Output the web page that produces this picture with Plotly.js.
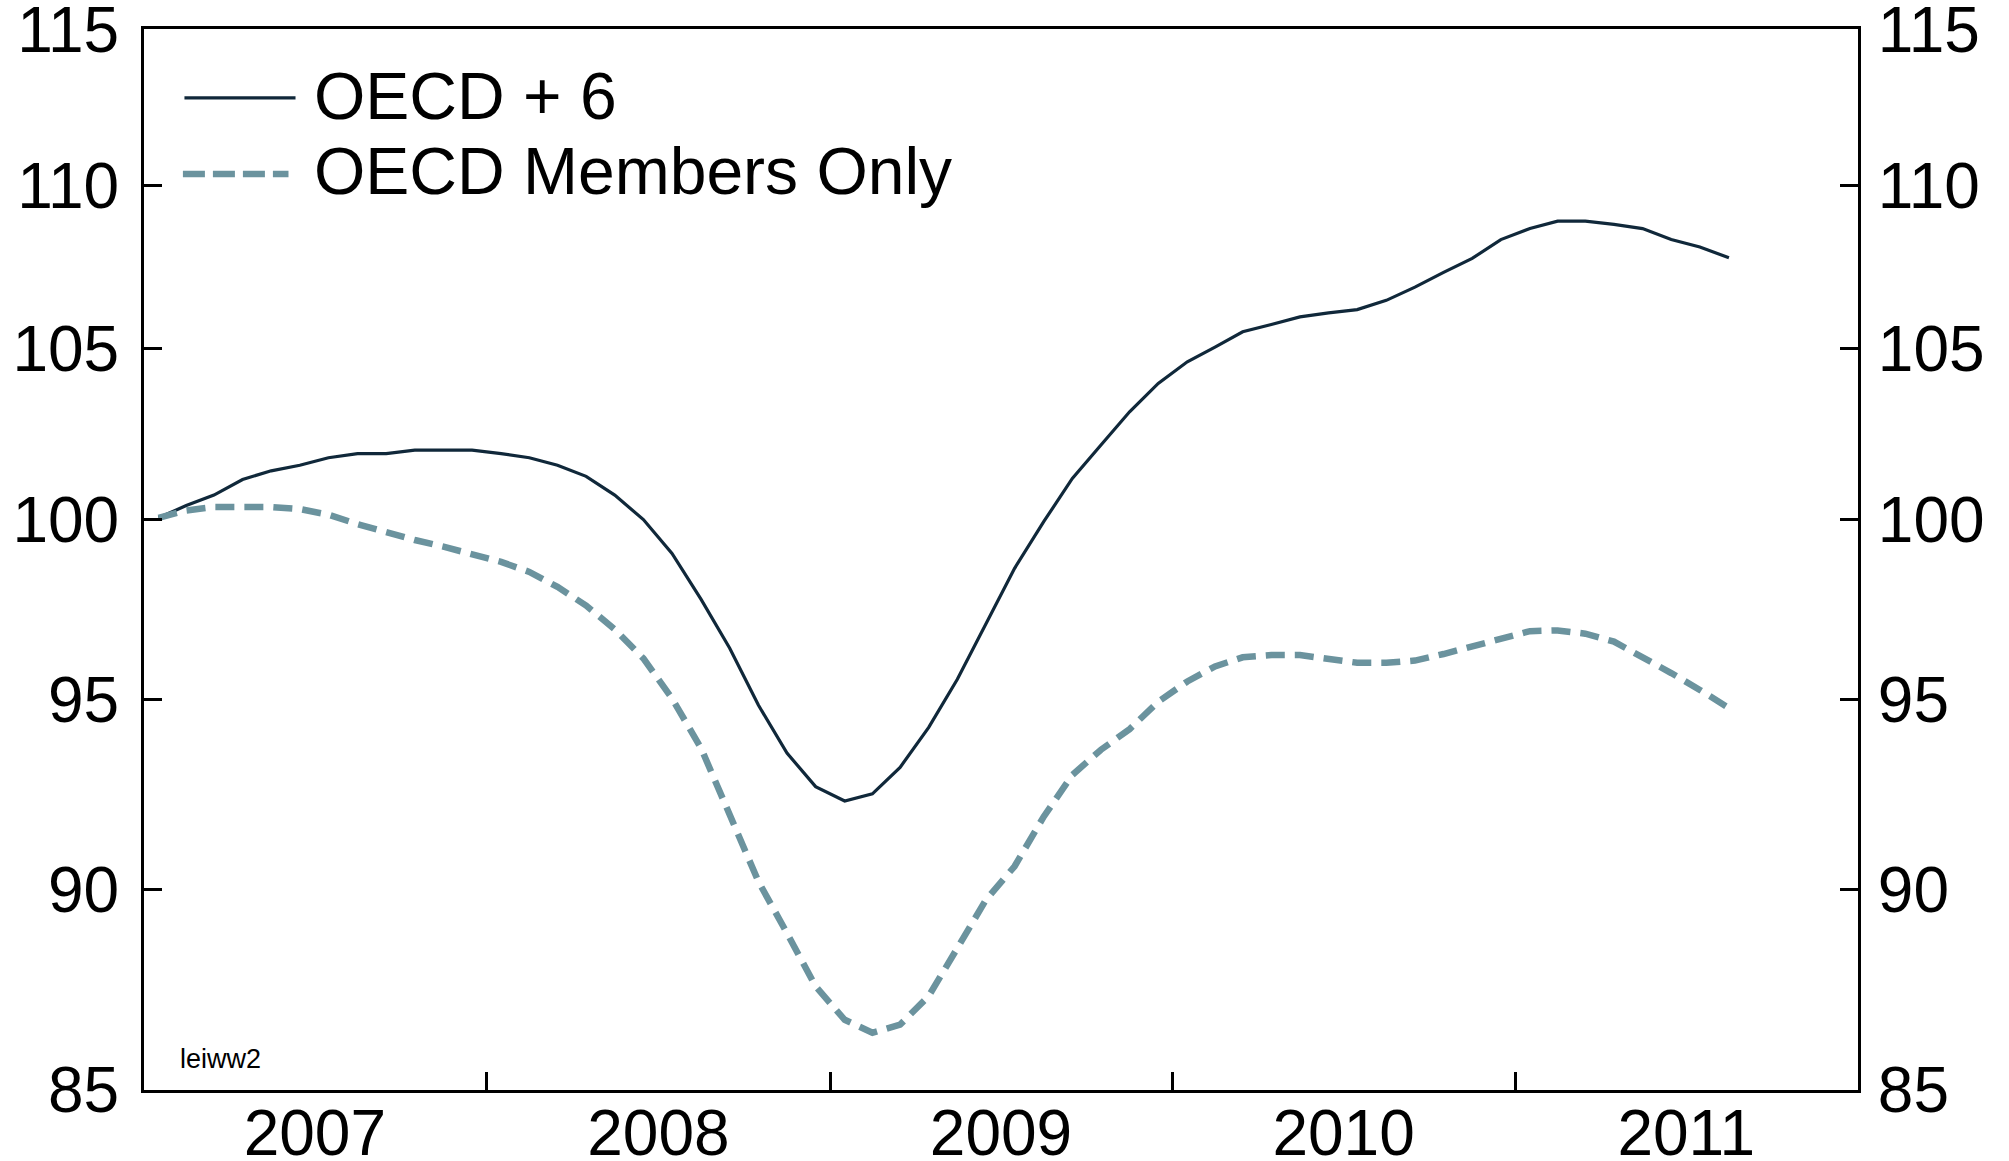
<!DOCTYPE html>
<html>
<head>
<meta charset="utf-8">
<script src="https://cdn.plot.ly/plotly-3.0.1.min.js"></script>
<style>
html,body{margin:0;padding:0;background:#fff;}
#chart{width:2009px;height:1161px;}
</style>
</head>
<body>
<div id="chart"></div>
<script>
var months = [
 '2007-01','2007-02','2007-03','2007-04','2007-05','2007-06','2007-07','2007-08','2007-09','2007-10','2007-11','2007-12',
 '2008-01','2008-02','2008-03','2008-04','2008-05','2008-06','2008-07','2008-08','2008-09','2008-10','2008-11','2008-12',
 '2009-01','2009-02','2009-03','2009-04','2009-05','2009-06','2009-07','2009-08','2009-09','2009-10','2009-11','2009-12',
 '2010-01','2010-02','2010-03','2010-04','2010-05','2010-06','2010-07','2010-08','2010-09','2010-10','2010-11','2010-12',
 '2011-01','2011-02','2011-03','2011-04','2011-05','2011-06','2011-07','2011-08'
];
var oecdPlus6 = [
 100.05,100.4,100.7,101.15,101.4,101.56,101.78,101.9,101.9,102.0,102.0,102.0,
 101.9,101.78,101.56,101.24,100.7,100.0,99.04,97.75,96.4,94.85,93.56,92.67,
 92.29,92.48,93.18,94.25,95.55,97.08,98.62,99.94,101.18,102.15,103.12,103.96,
 104.6,105.04,105.5,105.72,105.95,106.07,106.17,106.45,106.85,107.3,107.73,108.31,
 108.65,108.88,108.88,108.78,108.65,108.31,108.08,107.75
];
var oecdMembers = [
 100.05,100.26,100.36,100.36,100.36,100.3,100.14,99.87,99.63,99.42,99.23,99.02,
 98.8,98.52,98.1,97.58,96.92,96.12,95.03,93.69,91.88,90.2,88.88,87.54,
 86.71,86.39,86.59,87.3,88.5,89.73,90.59,91.88,92.98,93.65,94.2,94.94,
 95.49,95.9,96.15,96.21,96.21,96.12,96.0,96.0,96.06,96.24,96.45,96.7,
 96.87,96.89,96.8,96.58,96.17,95.72,95.26,94.77
];
var seriesNames = ['OECD + 6', 'OECD Members Only'];
var yTicks = [85, 90, 95, 100, 105, 110, 115];
var yTickText = ['85', '90', '95', '100', '105', '110', '115'];
var yearStarts = ['2008-01-01', '2009-01-01', '2010-01-01', '2011-01-01'];
var yearMids = ['2007-07-02', '2008-07-02', '2009-07-02', '2010-07-02', '2011-07-02'];
var yearLabels = ['2007', '2008', '2009', '2010', '2011'];
var note = 'leiww2';

var solidColor = '#10283a';
var dashColor = '#6b939e';
var FONT = '"Liberation Sans", Arial, sans-serif';

var traces = [
 {x: months, y: oecdPlus6, name: seriesNames[0], type: 'scatter', mode: 'lines',
  xperiod: 'M1', xperiodalignment: 'middle',
  line: {color: solidColor, width: 3.2}, xaxis: 'x', yaxis: 'y', hoverinfo: 'skip'},
 {x: months, y: oecdMembers, name: seriesNames[1], type: 'scatter', mode: 'lines',
  xperiod: 'M1', xperiodalignment: 'middle',
  line: {color: dashColor, width: 6.5, dash: '19px,10px'}, xaxis: 'x2', yaxis: 'y2', hoverinfo: 'skip'}
];

var eps = 0.00004;
var yRange = [Math.log10(85) - eps, Math.log10(115) + eps];
var xRange = ['2007-01-01', '2012-01-01'];

var yCommon = {
 type: 'log', range: yRange, tickmode: 'array', tickvals: yTicks, ticktext: yTickText,
 ticks: 'inside', ticklen: 18, tickwidth: 3, tickcolor: '#000',
 showline: true, linewidth: 3, linecolor: '#000', showgrid: false, zeroline: false,
 ticklabeloverflow: 'allow',
 tickfont: {family: FONT, size: 64, color: '#000'}
};

var layout = {
 width: 2009, height: 1161,
 margin: {l: 144, r: 151, t: 29, b: 71, pad: 0},
 paper_bgcolor: '#fff', plot_bgcolor: '#fff',
 showlegend: false,
 font: {family: FONT, color: '#000'},
 xaxis: {type: 'date', range: xRange, tickmode: 'array', tickvals: yearStarts,
  ticks: 'inside', ticklen: 18, tickwidth: 3, tickcolor: '#000', showticklabels: false,
  showline: true, linewidth: 3, linecolor: '#000', mirror: true, showgrid: false, zeroline: false},
 xaxis2: {type: 'date', range: xRange, overlaying: 'x', side: 'bottom', anchor: 'y2',
  tickmode: 'array', tickvals: yearMids, ticktext: yearLabels, ticks: '',
  showline: false, showgrid: false, zeroline: false, ticklabelstandoff: 0,
  ticklabeloverflow: 'allow',
  tickfont: {family: FONT, size: 64, color: '#000'}},
 yaxis: Object.assign({}, yCommon, {side: 'left', anchor: 'x', ticklabelstandoff: 9}),
 yaxis2: Object.assign({}, yCommon, {side: 'right', overlaying: 'y', anchor: 'x2', ticklabelstandoff: 4}),
 shapes: [
  {type: 'line', xref: 'paper', yref: 'paper', x0: 0.0236, x1: 0.0884, y0: 0.935, y1: 0.935,
   line: {color: solidColor, width: 3.2}},
  {type: 'line', xref: 'paper', yref: 'paper', x0: 0.0227, x1: 0.0843, y0: 0.8633, y1: 0.8633,
   line: {color: dashColor, width: 6.5, dash: '22px,8px'}}
 ],
 annotations: [
  {xref: 'paper', yref: 'paper', x: 0.0983, y: 0.937, xanchor: 'left', yanchor: 'middle',
   text: seriesNames[0], showarrow: false, font: {family: FONT, size: 66, color: '#000'}},
  {xref: 'paper', yref: 'paper', x: 0.0983, y: 0.8663, xanchor: 'left', yanchor: 'middle',
   text: seriesNames[1], showarrow: false, font: {family: FONT, size: 66, color: '#000'}},
  {xref: 'paper', yref: 'paper', x: 0.0201, y: 0.0292, xanchor: 'left', yanchor: 'middle',
   text: note, showarrow: false, font: {family: FONT, size: 27, color: '#000'}}
 ]
};

Plotly.newPlot('chart', traces, layout, {displayModeBar: false, staticPlot: true});
</script>
</body>
</html>
